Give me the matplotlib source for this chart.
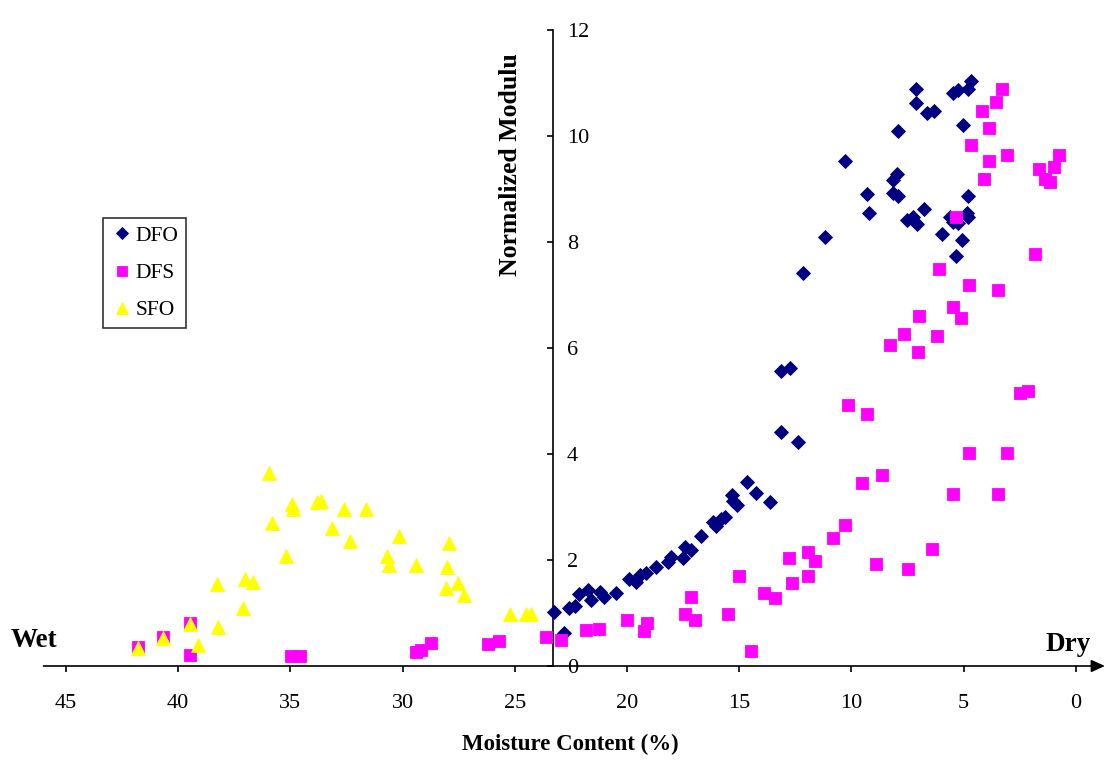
import matplotlib
matplotlib.use("Agg")
import matplotlib.pyplot as plt

plt.rcParams['font.family'] = ['Liberation Serif', 'DejaVu Serif']

# DFO series (moisture %, normalized modulus)
dfo_x = [23.27, 22.82, 22.59, 22.33, 22.14, 21.74, 21.59, 21.22, 21.00, 20.50,
         19.91, 19.58, 19.43, 19.17, 18.69, 18.17, 18.02, 17.50, 17.43, 17.13,
         16.68, 16.16, 16.01, 15.79, 15.64, 15.34, 15.27, 15.09, 14.67, 14.23,
         13.64, 13.13, 12.74, 13.13, 12.38,
         12.15, 11.18, 10.29, 9.32, 9.22, 8.14, 7.98, 8.14, 7.91, 7.90,
         7.12, 7.12, 6.65, 6.32, 6.75, 7.54, 7.27, 7.09, 5.95, 5.35,
         5.08, 4.82, 4.86, 4.79, 5.61, 5.46, 5.24, 5.04, 5.46, 5.24,
         4.79, 4.67]
dfo_y = [1.01, 0.62, 1.09, 1.13, 1.36, 1.43, 1.25, 1.40, 1.31, 1.37,
         1.65, 1.58, 1.71, 1.75, 1.86, 1.97, 2.06, 2.03, 2.25, 2.19,
         2.45, 2.72, 2.65, 2.78, 2.82, 3.23, 3.12, 3.04, 3.47, 3.26,
         3.10, 5.57, 5.63, 4.41, 4.22,
         7.41, 8.10, 9.53, 8.91, 8.54, 9.17, 9.28, 8.92, 8.87, 10.10,
         10.88, 10.62, 10.44, 10.48, 8.62, 8.42, 8.48, 8.34, 8.15, 7.74,
         8.04, 8.87, 8.55, 8.48, 8.48, 8.38, 8.36, 10.21, 10.81, 10.87,
         10.88, 11.04]

# DFS series
dfs_x = [41.78, 40.66, 39.47, 39.47, 34.97, 34.55, 29.39, 29.17, 28.72, 26.20,
         25.68, 23.60, 22.93, 21.84, 21.25, 20.00, 19.26, 19.09, 17.40, 17.13,
         16.95, 15.50, 15.00, 14.48, 13.89, 13.41, 12.77, 12.64, 11.93, 11.60,
         11.93, 10.81, 10.29, 10.17, 9.28, 9.53, 8.64, 8.91, 7.48, 6.42,
         4.77, 3.08, 5.46, 3.45, 2.48, 2.11, 8.27, 7.65, 7.05, 6.99,
         6.16, 5.46, 5.13, 6.10, 4.75, 3.45, 1.80, 5.35, 4.08, 3.87,
         3.08, 4.67, 3.87, 4.19, 3.55, 3.30, 1.62, 1.39, 1.15, 0.99, 0.75]
dfs_y = [0.36, 0.54, 0.82, 0.21, 0.18, 0.19, 0.27, 0.31, 0.44, 0.42,
         0.48, 0.55, 0.50, 0.67, 0.69, 0.87, 0.66, 0.82, 0.98, 1.30,
         0.87, 0.98, 1.70, 0.28, 1.38, 1.29, 2.03, 1.56, 2.15, 1.99,
         1.70, 2.41, 2.66, 4.92, 4.75, 3.45, 3.60, 1.92, 1.83, 2.21,
         4.01, 4.01, 3.25, 3.25, 5.16, 5.18, 6.06, 6.26, 5.92, 6.61,
         6.23, 6.77, 6.56, 7.49, 7.18, 7.09, 7.77, 8.48, 9.18, 9.52,
         9.64, 9.83, 10.16, 10.48, 10.64, 10.88, 9.38, 9.19, 9.14, 9.42, 9.64]

# SFO series
sfo_x = [41.78, 40.66, 39.47, 39.12, 38.24, 38.29, 37.10, 37.02, 36.65, 35.94,
         35.83, 35.19, 34.94, 34.90, 33.83, 33.63, 33.14, 32.60, 32.34, 31.61,
         30.71, 30.62, 30.17, 29.39, 27.94, 28.01, 28.06, 27.52, 27.28, 25.23,
         24.49, 24.26]
sfo_y = [0.34, 0.52, 0.80, 0.40, 0.73, 1.54, 1.09, 1.65, 1.58, 3.64,
         2.70, 2.08, 3.05, 2.96, 3.09, 3.11, 2.60, 2.96, 2.35, 2.96,
         2.08, 1.91, 2.45, 1.91, 2.32, 1.87, 1.47, 1.56, 1.34, 0.99,
         0.99, 0.99]

x_ticks = [45, 40, 35, 30, 25, 20, 15, 10, 5, 0]
y_ticks = [0, 2, 4, 6, 8, 10, 12]

W, H = 1110, 761
fig = plt.figure(figsize=(W / 100, H / 100), dpi=100)
ax = fig.add_axes([43.5 / W, 95 / H, 1061.4 / W, 636 / H])
ax.set_xlim(46.0, -1.3)
ax.set_ylim(0, 12)

ax.plot(dfo_x, dfo_y, ls='none', marker='D', ms=7.2, color='#000080',
        mec='#000080', mew=0.6, clip_on=False, label='DFO', zorder=3)
ax.plot(dfs_x, dfs_y, ls='none', marker='s', ms=9.0, color='#FF00FF',
        mec='#FF00FF', mew=0.6, clip_on=False, label='DFS', zorder=4)
ax.plot(sfo_x, sfo_y, ls='none', marker='^', ms=9.8, color='#FFFF00',
        mec='#FFFF00', mew=0.6, clip_on=False, label='SFO', zorder=5)

# axes: y axis crosses in the middle, x axis with arrow
for s in ['top', 'left', 'bottom']:
    ax.spines[s].set_visible(False)
ax.spines['right'].set_position(('data', 23.3))
ax.spines['right'].set_linewidth(1.2)
ax.yaxis.tick_right()
ax.set_yticks(y_ticks)
ax.tick_params(axis='y', direction='in', length=4, width=1.2, pad=10, labelsize=16)

ax.set_xticks(x_ticks)
ax.xaxis.tick_bottom()
ax.tick_params(axis='x', direction='out', length=4.5, width=1.2, pad=16, labelsize=16)

ax.annotate('', xy=(-1.3, 0), xytext=(46.0, 0), xycoords='data',
            arrowprops=dict(arrowstyle='-|>,head_length=0.55,head_width=0.25',
                            mutation_scale=15, lw=1.2, color='black',
                            shrinkA=0, shrinkB=0),
            annotation_clip=False, zorder=2)

fig.text(570 / W, 1 - 744 / H, 'Moisture Content (%)', ha='center', va='center',
         fontsize=16.5, fontweight='bold')
fig.text(510.5 / W, 1 - 165 / H, 'Normalized Modulu', ha='center', va='center',
         rotation=90, fontsize=18.5, fontweight='bold')
fig.text(10.7 / W, 1 - 646.7 / H, 'Wet', ha='left', va='baseline',
         fontsize=19.5, fontweight='bold')
fig.text(1091 / W, 1 - 651 / H, 'Dry', ha='right', va='baseline',
         fontsize=19.5, fontweight='bold')

leg = ax.legend(loc='upper left', bbox_to_anchor=(103.3 / W, 1 - 218.3 / H),
                bbox_transform=fig.transFigure, borderaxespad=0, numpoints=1,
                fontsize=15.5, fancybox=False, borderpad=0.35, handlelength=1.0,
                handletextpad=0.15, labelspacing=0.8, markerscale=0.85)
leg.get_frame().set_edgecolor('black')
leg.get_frame().set_linewidth(1.2)

fig.savefig('out.png', dpi=100)
